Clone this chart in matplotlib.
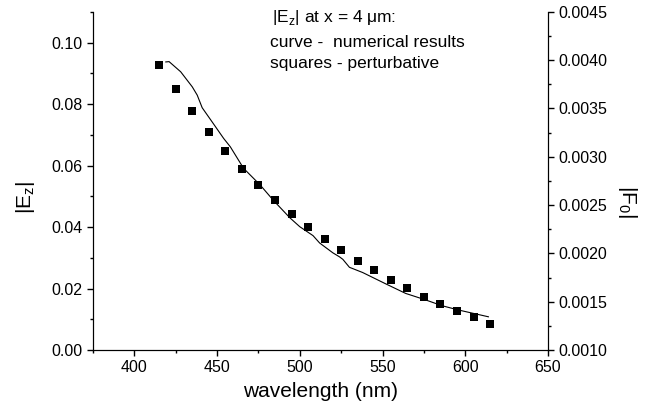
import numpy as np
import matplotlib
matplotlib.use('Agg')
from matplotlib import pyplot as plt
from matplotlib.ticker import MultipleLocator, FormatStrFormatter

plt.rcParams['font.family'] = ['Liberation Sans', 'DejaVu Sans']
plt.rcParams['mathtext.fontset'] = 'custom'
plt.rcParams['mathtext.rm'] = 'Liberation Sans'

# perturbative results (squares)
wl_sq = [415, 425, 435, 445, 455, 465, 475, 485, 495, 505, 515,
         525, 535, 545, 555, 565, 575, 585, 595, 605, 615]
ez_sq = [0.0927, 0.0848, 0.0777, 0.0709, 0.0647, 0.0590, 0.0536, 0.0489,
         0.0442, 0.0401, 0.0360, 0.0325, 0.0289, 0.0259, 0.0228, 0.0201,
         0.0173, 0.0151, 0.0128, 0.0107, 0.0086]

# numerical results (curve)
wl_num = [419, 421, 428, 435, 438, 441, 447, 454, 458, 466, 476, 484, 494,
          500, 508, 512, 520, 524, 526, 530, 538, 552, 564, 576, 586, 596, 614]
ez_num = [0.0937, 0.0938, 0.0905, 0.0856, 0.0829, 0.0788, 0.0742, 0.0688,
          0.0661, 0.0591, 0.0537, 0.0487, 0.0430, 0.0401, 0.0372, 0.0348,
          0.0316, 0.0303, 0.0295, 0.0269, 0.0252, 0.0215, 0.0184, 0.0163,
          0.0144, 0.0130, 0.0108]

fig = plt.figure(figsize=(6.49, 4.18), dpi=100)
ax = fig.add_axes([0.1433, 0.1627, 0.701, 0.809])

ax.plot(wl_num, ez_num, color='black', lw=0.8)
ax.plot(wl_sq, ez_sq, 's', color='black', ms=5.6, mew=0)

ax.set_xlim(375, 650)
ax.set_ylim(0, 0.11)
ax.xaxis.set_major_locator(MultipleLocator(50))
ax.xaxis.set_minor_locator(MultipleLocator(25))
ax.yaxis.set_major_locator(MultipleLocator(0.02))
ax.yaxis.set_minor_locator(MultipleLocator(0.01))
ax.yaxis.set_major_formatter(FormatStrFormatter('%.2f'))
ax.spines['top'].set_visible(False)
ax.tick_params(which='both', direction='out', labelsize=11.5, width=1)
ax.tick_params(which='major', length=4)
ax.tick_params(which='minor', length=2.5)
ax.set_xlabel('wavelength (nm)', fontsize=15)
ax.xaxis.set_label_coords(0.5, -0.095)
ax.set_ylabel(r'|E$_\mathregular{z}$|', fontsize=15)
ax.yaxis.set_label_coords(-0.123, 0.45)

ax2 = ax.twinx()
ax2.set_ylim(0.0010, 0.0045)
ax2.yaxis.set_major_locator(MultipleLocator(0.0005))
ax2.yaxis.set_minor_locator(MultipleLocator(0.00025))
ax2.yaxis.set_major_formatter(FormatStrFormatter('%.4f'))
ax2.spines['top'].set_visible(False)
ax2.tick_params(which='both', direction='out', labelsize=11.5, width=1)
ax2.tick_params(which='major', length=4)
ax2.tick_params(which='minor', length=2.5)
ax2.set_ylabel(r'|F$_\mathregular{0}$|', fontsize=15, rotation=270, va='center')
ax2.yaxis.set_label_coords(1.174, 0.44)

fig.text(0.419, 0.959, r'|E$_\mathregular{z}$| at x = 4 μm:', fontsize=12.5, va='center')
fig.text(0.416, 0.899, 'curve -  numerical results', fontsize=12.5, va='center')
fig.text(0.416, 0.847, 'squares - perturbative', fontsize=12.5, va='center')

fig.savefig('out.png', dpi=100)
